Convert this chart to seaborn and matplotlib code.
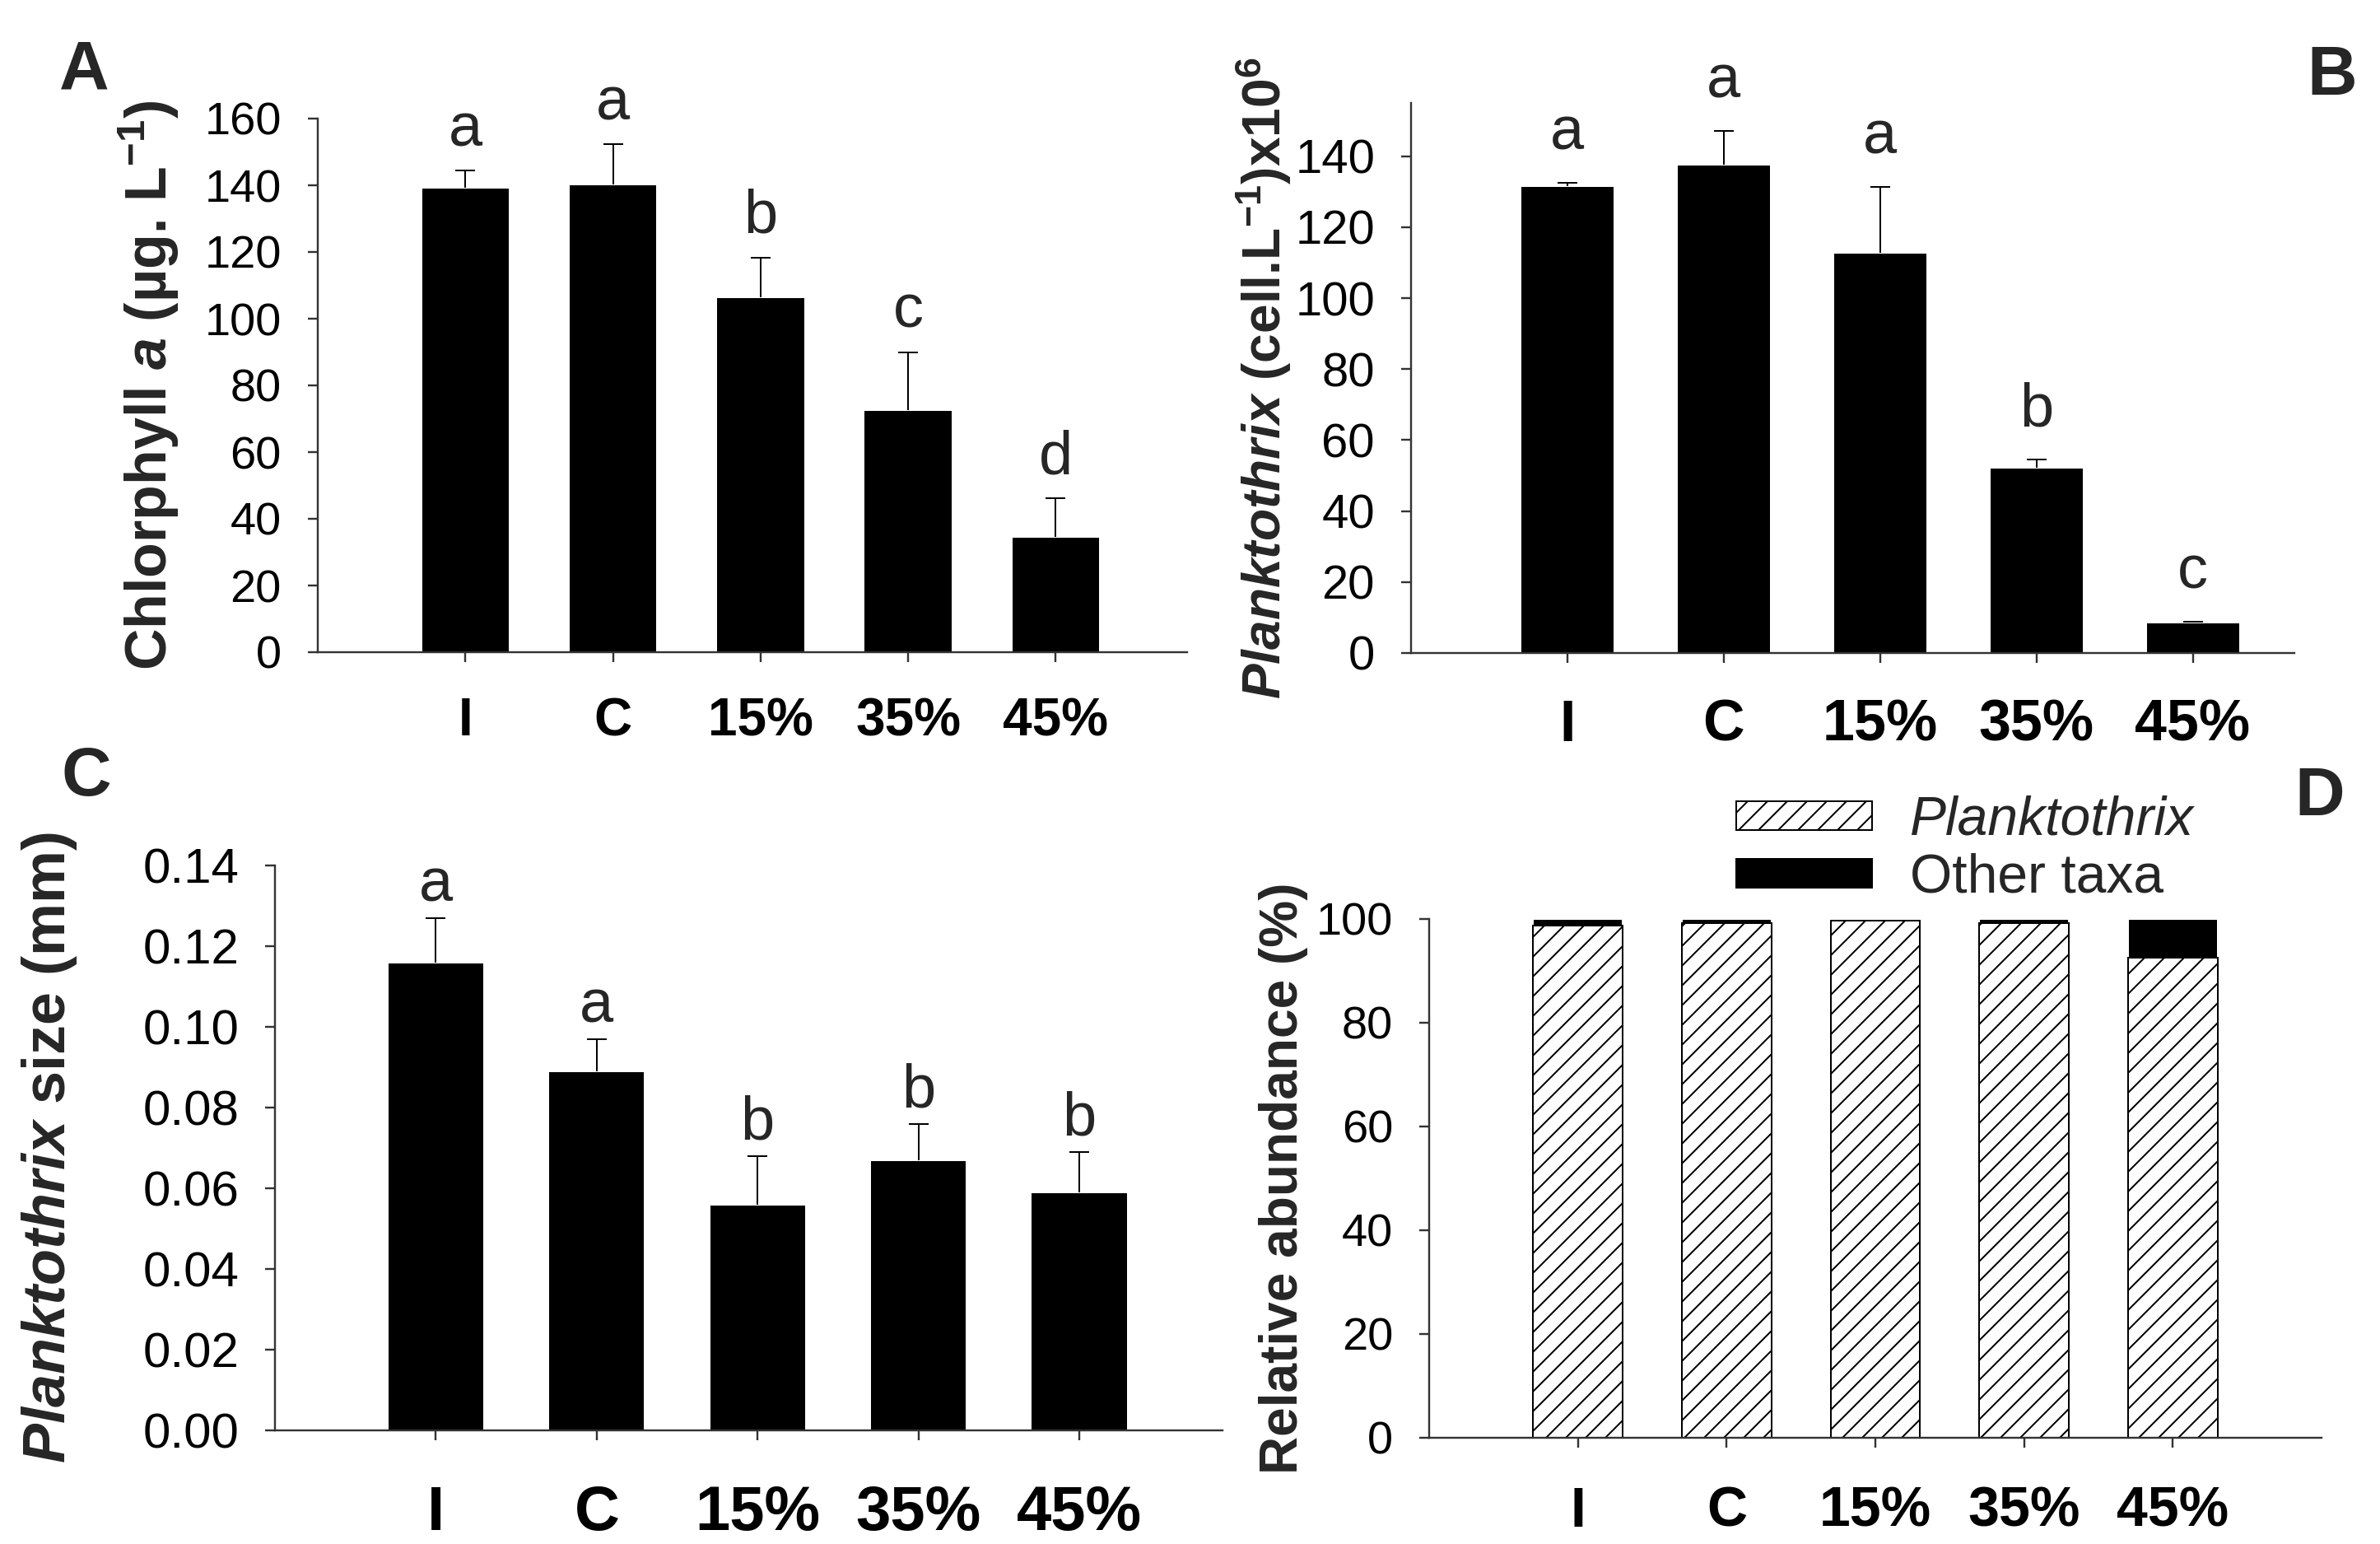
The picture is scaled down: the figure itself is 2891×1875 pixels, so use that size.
import numpy as np
import matplotlib
matplotlib.use('Agg')
import matplotlib.pyplot as plt
from matplotlib.patches import Patch
from matplotlib.ticker import FormatStrFormatter
import seaborn as sns

# data
treatments = ['I', 'C', '15%', '35%', '45%']

chl_mean = [139.2, 140.2, 106.3, 72.7, 34.6]
chl_sd = [5.2, 12.1, 12.0, 17.2, 11.5]
chl_letters = ['a', 'a', 'b', 'c', 'd']

cell_mean = [131.6, 137.6, 112.7, 52.3, 8.6]
cell_sd = [0.9, 9.6, 18.7, 2.3, 0.3]
cell_letters = ['a', 'a', 'a', 'b', 'c']

size_mean = [0.116, 0.089, 0.056, 0.067, 0.059]
size_sd = [0.011, 0.008, 0.012, 0.009, 0.010]
size_letters = ['a', 'a', 'b', 'b', 'b']

plank_pct = [98.8, 99.2, 99.7, 99.2, 92.6]
other_pct = [1.2, 0.8, 0.3, 0.8, 7.4]

sns.set_theme(style='ticks')
plt.rcParams['font.family'] = ['Liberation Sans', 'DejaVu Sans']
plt.rcParams.update({
    'mathtext.fontset': 'custom',
    'mathtext.rm': 'Liberation Sans:bold',
    'mathtext.it': 'Liberation Sans:italic:bold',
    'mathtext.bf': 'Liberation Sans:bold',
    'hatch.linewidth': 1.0,
    'hatch.color': 'black',
    'axes.edgecolor': '#333333',
    'axes.linewidth': 1.2,
    'xtick.color': '#333333',
    'ytick.color': '#333333',
    'xtick.labelcolor': 'black',
    'ytick.labelcolor': 'black',
})

W, H, DPI = 2891, 1875, 144
fig = plt.figure(figsize=(W / DPI, H / DPI), dpi=DPI, facecolor='white')


def px_axes(left, right, top, bottom):
    return fig.add_axes([left / W, 1 - bottom / H, (right - left) / W, (bottom - top) / H])


def style_axis(ax, xlim, ylim, yticks, ylabel, label_x, ysize, xsize, xpad, lsize):
    ax.set_xlim(*xlim)
    ax.set_ylim(*ylim)
    ax.set_yticks(yticks)
    ax.set_xlabel('')
    ax.set_ylabel(ylabel, fontsize=lsize, fontweight='bold')
    ax.yaxis.set_label_coords(label_x, 0.5)
    ax.tick_params(axis='y', direction='out', length=6, width=1.2, labelsize=ysize, pad=16)
    ax.tick_params(axis='x', direction='out', length=6, width=1.2, labelsize=xsize, pad=xpad)
    for t in ax.get_xticklabels():
        t.set_fontweight('bold')
    sns.despine(ax=ax)


def bar_panel(ax, values, sd, letters, offset):
    sns.barplot(x=treatments, y=values, color='black', saturation=1, width=0.6,
                errorbar=None, ax=ax)
    x = np.arange(len(treatments))
    tops = np.array(values) + np.array(sd)
    # upper half of the SD only, cap at the top
    ax.errorbar(x, values, yerr=[np.zeros(len(sd)), sd], fmt='none', ecolor='black',
                elinewidth=1, capsize=0)
    ax.plot(x, tops, ls='none', marker='_', ms=12, mew=1, color='black')
    for xi, t, lab in zip(x, tops, letters):
        ax.annotate(lab, (xi, t), xytext=(0, offset), textcoords='offset points',
                    ha='center', va='baseline', fontsize=37)


# A
axA = px_axes(386, 1442, 144, 792)
bar_panel(axA, chl_mean, chl_sd, chl_letters, 15)
style_axis(axA, (-1.0, 4.89), (0, 160), np.arange(0, 161, 20),
           r'Chlorphyll $\mathit{a}$ (µg. L$^{-1}$)', -0.157, 28, 32, 21, 35)

# B
axB = px_axes(1714, 2787, 125, 793)
bar_panel(axB, cell_mean, cell_sd, cell_letters, 20)
style_axis(axB, (-1.0, 4.65), (0, 155), np.arange(0, 141, 20),
           r'$\mathit{Planktothrix}$ (cell.L$^{-1}$)x10$^{6}$', -0.133, 29, 35, 22, 32)

# C
axC = px_axes(334, 1485, 1051, 1737)
bar_panel(axC, size_mean, size_sd, size_letters, 10)
style_axis(axC, (-1.0, 4.89), (0, 0.14), np.arange(0, 0.141, 0.02),
           r'$\mathit{Planktothrix}$ size (mm)', -0.207, 30, 38, 27, 36)
axC.yaxis.set_major_formatter(FormatStrFormatter('%.2f'))

# D
axD = px_axes(1736, 2820, 1116, 1746)
totals = np.array(plank_pct) + np.array(other_pct)
sns.barplot(x=treatments, y=totals, color='black', saturation=1, width=0.6,
            errorbar=None, ax=axD)
sns.barplot(x=treatments, y=plank_pct, color='white', saturation=1, width=0.6,
            errorbar=None, edgecolor='black', linewidth=1, hatch='//', ax=axD)
style_axis(axD, (-1.0, 5.0), (0, 100), np.arange(0, 101, 20),
           'Relative abundance (%)', -0.136, 28, 34, 23, 32)

handles = [Patch(facecolor='white', edgecolor='black', hatch='//', linewidth=1),
           Patch(facecolor='black', edgecolor='black')]
leg = fig.legend(handles=handles, labels=['Planktothrix', 'Other taxa'],
                 loc='upper left', bbox_to_anchor=(2109 / W, 1 - 966 / H),
                 frameon=False, fontsize=33, handlelength=2.5, handleheight=0.45,
                 handletextpad=0.7, labelspacing=0.12, borderpad=0, borderaxespad=0)
leg.get_texts()[0].set_style('italic')

# panel letters
for lab, lx, ly in [('A', 72, 108), ('B', 2802, 115), ('C', 74, 966), ('D', 2787, 990)]:
    fig.text(lx / W, 1 - ly / H, lab, fontsize=42, fontweight='bold',
             ha='left', va='baseline')

fig.savefig('out.png', dpi=DPI, facecolor='white')
